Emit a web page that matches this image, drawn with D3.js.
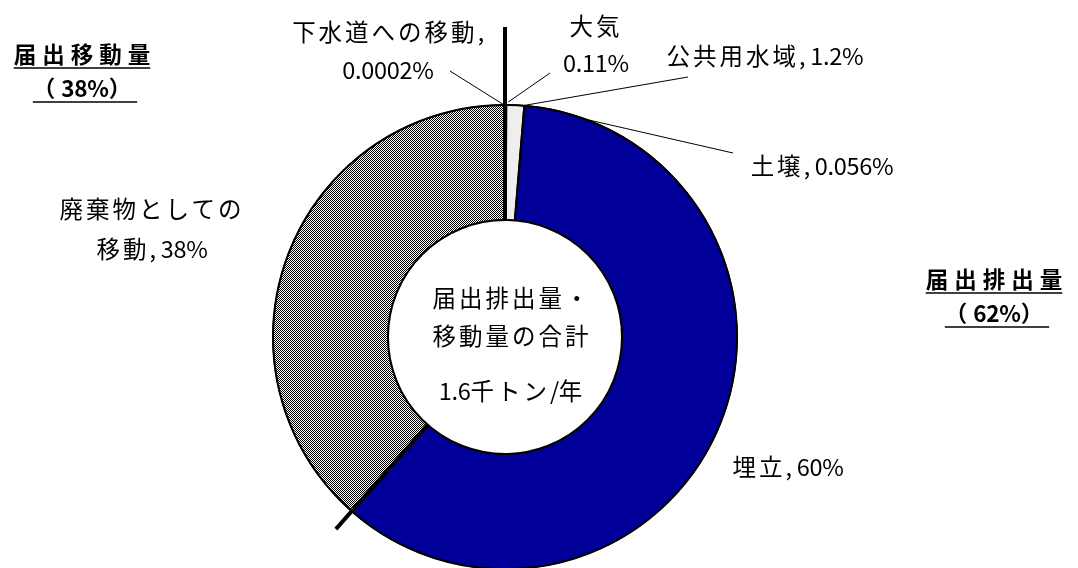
<!DOCTYPE html>
<html><head><meta charset="utf-8">
<script src="https://cdn.jsdelivr.net/npm/d3@7"></script>
<style>
html,body{margin:0;padding:0;background:#fff;}
#wrap{position:relative;width:1078px;height:568px;}
#wrap canvas,#wrap svg{position:absolute;left:0;top:0;display:block;}
text{font-family:"Noto Sans CJK JP","Noto Sans",sans-serif;fill:#000;}
</style></head>
<body>
<div id="wrap">
<canvas id="bg" width="1078" height="568"></canvas>
<svg id="chart" width="1078" height="568"></svg>
</div>
<script>
// ---- data ----
const categories = ["大気", "公共用水域", "土壌", "埋立", "廃棄物としての移動", "下水道への移動"];
const values = [0.11, 1.2, 0.056, 60.1, 38.5, 0.0002];
const valueLabels = ["0.11%", "1.2%", "0.056%", "60%", "38%", "0.0002%"];
const groupNames = ["届出排出量", "届出移動量"];
const groupLabels = ["（62%）", "（38%）"];
const centerLines = ["届出排出量・", "移動量の合計", "1.6千トン/年"];

// ---- layout / style ----
const W = 1078, H = 568;
const cx = 505, cy = 337, rOuter = 232, rInner = 117;
const fills = ["#f0f0f0", "#eeeeee", "#f0f0f0", "#000099", "pattern", "#ffffff"];
const fontSize = 23.5;

const pie = d3.pie().sort(null).value(d => d)(values);

// patterned slices drawn on a canvas underneath (pixel-exact 1px checkerboard)
const tile = document.createElement("canvas");
tile.width = 2; tile.height = 2;
const tctx = tile.getContext("2d");
tctx.fillStyle = "#fff"; tctx.fillRect(0, 0, 2, 2);
tctx.fillStyle = "#000"; tctx.fillRect(0, 0, 1, 1); tctx.fillRect(1, 1, 1, 1);
const bg = document.getElementById("bg").getContext("2d");
const checker = bg.createPattern(tile, "repeat");
bg.save();
bg.translate(cx, cy);
const arcCtx = d3.arc().innerRadius(rInner).outerRadius(rOuter).context(bg);
pie.forEach((d, i) => {
  if (fills[i] !== "pattern") return;
  bg.beginPath(); arcCtx(d); bg.closePath();
  bg.fillStyle = checker; bg.fill();
});
bg.restore();

const svg = d3.select("#chart");
const arc = d3.arc().innerRadius(rInner).outerRadius(rOuter);
const g = svg.append("g").attr("transform", `translate(${cx},${cy})`);

g.selectAll("path.slice").data(pie).join("path")
  .attr("class", "slice")
  .attr("d", arc)
  .attr("fill", (d, i) => fills[i] === "pattern" ? "none" : fills[i])
  .attr("stroke", "#000").attr("stroke-width", 1.5).attr("stroke-linejoin", "round");

// outer & inner ring outline
g.append("circle").attr("r", rOuter).attr("fill", "none").attr("stroke", "#000").attr("stroke-width", 2);
g.append("circle").attr("r", rInner).attr("fill", "#fff").attr("stroke", "#000").attr("stroke-width", 2);

// group separators (release / transfer)
const releaseEnd = pie[3].endAngle;
const polar = (a, r) => [Math.sin(a) * r, -Math.cos(a) * r];
const seps = [{a: 0, ext: 78}, {a: releaseEnd, ext: 24}];
seps.forEach(s => {
  const p0 = polar(s.a, rInner), p1 = polar(s.a, rOuter + s.ext);
  g.append("line").attr("x1", p0[0]).attr("y1", p0[1]).attr("x2", p1[0]).attr("y2", p1[1])
    .attr("stroke", "#000").attr("stroke-width", 4);
});

// helper: write text with CJK runs spaced wider than latin runs
function addRuns(textSel, str, cjkSp) {
  const runs = str.match(/[\u3000-\u9fff\uff00-\uffef]+|[^\u3000-\u9fff\uff00-\uffef]+/g) || [];
  runs.forEach(r => {
    const cjk = /[\u3000-\u9fff\uff00-\uffef]/.test(r);
    textSel.append("tspan").attr("letter-spacing", cjk ? cjkSp : -0.3).text(r);
  });
}
function label(x, y, str, opts = {}) {
  const t = svg.append("text").attr("x", x).attr("y", y)
    .attr("text-anchor", opts.anchor || "middle")
    .attr("dominant-baseline", "central")
    .attr("font-size", opts.size || fontSize)
    .attr("font-weight", opts.bold ? "bold" : "normal");
  addRuns(t, str, opts.sp !== undefined ? opts.sp : 3);
  return t;
}

// slice labels (positions are layout)
const sliceLabelLayout = [
  {lines: [categories[0], valueLabels[0]], x: 596, y: [25, 62], leader: [550, 73], leaderAngleDeg: 0.8, leaderR: 235},
  {lines: [categories[1] + ", " + valueLabels[1]], x: 765, y: [55], leader: [688, 77], leaderAngleDeg: 4.4, leaderR: 232},
  {lines: [categories[2] + ", " + valueLabels[2]], x: 822, y: [165], leader: [733, 153], leaderAngleDeg: 20, leaderR: 232},
  {lines: [categories[3] + ", " + valueLabels[3]], x: 788, y: [466]},
  {lines: ["廃棄物としての", "移動, " + valueLabels[4]], x: 152, y: [208, 248]},
  {lines: ["下水道への移動,", valueLabels[5]], x: 388, y: [31, 69], leader: [450, 71], leaderAngleDeg: -0.2, leaderR: 232}
];
sliceLabelLayout.forEach(L => {
  if (L.leader) {
    const a = L.leaderAngleDeg * Math.PI / 180;
    const p = polar(a, L.leaderR);
    svg.append("line").attr("x1", L.leader[0]).attr("y1", L.leader[1])
      .attr("x2", cx + p[0]).attr("y2", cy + p[1])
      .attr("stroke", "#000").attr("stroke-width", 1);
  }
  L.lines.forEach((s, i) => label(L.x, L.y[i], s));
});

// center text
const centerY = [297, 335, 390];
centerLines.forEach((s, i) => label(cx + 7, centerY[i], s));

// group labels (bold, underlined)
const groupLayout = [
  {x: 997, y: [278, 312]},
  {x: 85, y: [53, 87]}
];
groupNames.forEach((name, i) => {
  const Lo = groupLayout[i];
  [name, groupLabels[i]].forEach((s, j) => {
    const t = label(Lo.x, Lo.y[j], s, {bold: true, size: 22.5, sp: 6});
    const bb = t.node().getBBox();
    svg.append("line").attr("x1", bb.x).attr("x2", bb.x + bb.width - (j === 0 ? 6 : 0))
      .attr("y1", Lo.y[j] + 15).attr("y2", Lo.y[j] + 15)
      .attr("stroke", "#000").attr("stroke-width", 1.5);
  });
});
</script>
</body></html>
